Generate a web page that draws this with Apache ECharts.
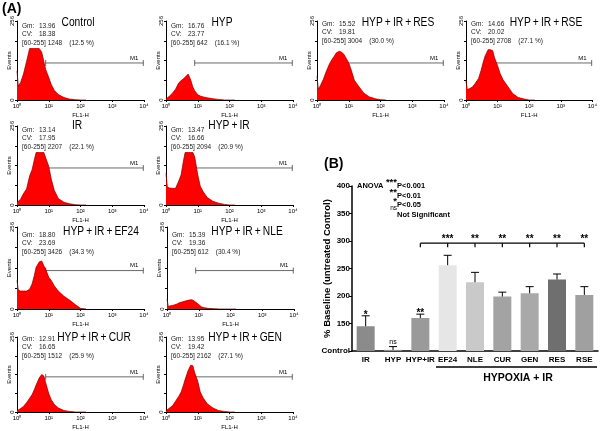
<!DOCTYPE html>
<html><head><meta charset="utf-8">
<script src="https://cdn.jsdelivr.net/npm/echarts@6/dist/echarts.min.js"></script>
<style>html,body{margin:0;padding:0;background:#fff}#c{width:600px;height:431px}</style>
</head><body><div id="c"></div><script>
// ---------- DATA ----------
const binEdges = [1, 1.1, 1.3, 1.6, 2, 2.5, 3, 3.5, 4, 5, 6, 7, 8, 10, 12, 15, 20, 30, 45, 70, 100, 150];
const histControl = [94, 45, 57, 84, 125, 167, 167, 167, 167, 167, 155, 125, 99, 73, 50, 31, 18, 8, 3, 1, 0, 0];
const histHYP     = [3, 8, 13, 22, 35, 55, 63, 68, 73, 84, 65, 42, 30, 17, 13, 10, 7, 4, 2, 0, 0, 0];
const histRES     = [77, 35, 48, 68, 95, 118, 132, 142, 152, 158, 155, 148, 138, 120, 97, 64, 46, 22, 10, 4, 1, 0];
const histRSE     = [60, 34, 37, 42, 55, 70, 96, 122, 142, 163, 163, 160, 137, 111, 86, 65, 47, 21, 8, 3, 0, 0];
const histIR      = [8, 12, 19, 37, 52, 94, 115, 146, 170, 170, 170, 170, 170, 125, 84, 47, 21, 9, 4, 1, 0, 0];
const histHYPIR   = [103, 58, 55, 54, 54, 77, 98, 140, 170, 170, 170, 170, 156, 98, 61, 42, 24, 12, 6, 2, 0, 0];
const histEF24    = [89, 59, 56, 56, 56, 62, 79, 104, 130, 147, 150, 135, 124, 99, 89, 72, 56, 40, 28, 13, 2, 0];
const histNLE     = [31, 8, 10, 12, 15, 20, 22, 24, 26, 28, 29, 26, 22, 14, 7, 4, 2, 1, 0, 0, 0, 0];
const histCUR     = [4, 8, 12, 19, 32, 47, 60, 76, 92, 116, 128, 123, 100, 63, 42, 26, 14, 5, 2, 0, 0, 0];
const histGEN     = [4, 7, 14, 21, 37, 53, 68, 90, 111, 142, 160, 158, 134, 105, 68, 47, 28, 14, 5, 2, 0, 0];
const histograms = [histControl, histHYP, histRES, histRSE, histIR, histHYPIR, histEF24, histNLE, histCUR, histGEN];

const panelTitles = ['Control', 'HYP', 'HYP + IR + RES', 'HYP + IR + RSE', 'IR', 'HYP + IR',
  'HYP + IR + EF24', 'HYP + IR + NLE', 'HYP + IR + CUR', 'HYP + IR + GEN'];
const gmValues = ['13.96', '16.76', '15.52', '14.66', '13.14', '13.47', '18.80', '15.39', '12.91', '13.95'];
const cvValues = ['18.38', '23.77', '19.81', '20.02', '17.95', '16.66', '23.69', '19.36', '16.65', '19.42'];
const gateCounts = ['1248', '642', '3004', '2708', '2207', '2094', '3426', '612', '1512', '2162'];
const gatePercents = ['12.5', '16.1', '30.0', '27.1', '22.1', '20.9', '34.3', '30.4', '25.9', '27.1'];
const gateRange = [8, 9500];
const gateLevel = 120;
const logTickLabels = ['10\u2070', '10\u00b9', '10\u00b2', '10\u00b3', '10\u2074'];
const eventsTicks = [0, 256];

const barCategories = ['IR', 'HYP', 'HYP+IR', 'EF24', 'NLE', 'CUR', 'GEN', 'RES', 'RSE'];
const barMeans = [145, 102, 160, 256, 225, 199, 205, 230, 202];
const barErrTop = [164, 108, 167, 274, 243, 207, 217, 240, 217];
const barSignif = ['*', 'ns', '**', '***', '**', '**', '**', '**', '**'];
const bracketFrom = 2, bracketTo = 8, bracketLevel = 296;
const legendStars = ['***', '**', '*', 'ns'];
const legendTexts = ['P<0.001', 'P<0.01', 'P<0.05', 'Not Significant'];

// ---------- STYLE / LAYOUT ----------
const barColors = ['#8b8b8b', '#8e8e8e', '#9a9a9a', '#e6e6e6', '#c9c9c9', '#a3a3a3', '#a9a9a9', '#6f6f6f', '#a0a0a0'];
const FONT = 'Liberation Sans, Arial, sans-serif';
const panelLayout = [
  {left: 17, top: 21, h: 79, tx: 78, ty: 23, sy: 26},
  {left: 166, top: 21, h: 79, tx: 222, ty: 23, sy: 26},
  {left: 317, top: 21, h: 79, tx: 398, ty: 23, sy: 24},
  {left: 466, top: 21, h: 79, tx: 546, ty: 23, sy: 24},
  {left: 17, top: 126, h: 79, tx: 77, ty: 126, sy: 130},
  {left: 166, top: 126, h: 79, tx: 229, ty: 126, sy: 130},
  {left: 17, top: 227, h: 82, tx: 101, ty: 232, sy: 235},
  {left: 167, top: 227, h: 82, tx: 247, ty: 232, sy: 235},
  {left: 17, top: 337, h: 78, tx: 94, ty: 338, sy: 339},
  {left: 166, top: 337, h: 78, tx: 245, ty: 338, sy: 339}
];
const PW = 127;

const grids = [], xAxes = [], yAxes = [], series = [], graphics = [];

panelLayout.forEach((p, i) => {
  grids.push({left: p.left, top: p.top, width: PW, height: p.h});
  xAxes.push({
    type: 'log', logBase: 10, min: 1, max: 10000, gridIndex: i,
    axisLine: {lineStyle: {color: '#000', width: 1}},
    axisTick: {show: true, length: 2, lineStyle: {color: '#000'}},
    axisLabel: {fontSize: 6, margin: 3, color: '#000', fontFamily: FONT,
      formatter: v => logTickLabels[Math.round(Math.log10(v))]},
    splitLine: {show: false},
    name: 'FL1-H', nameLocation: 'middle', nameGap: 12, nameMoveOverlap: false,
    nameTextStyle: {fontSize: 6, color: '#000', fontFamily: FONT}
  });
  yAxes.push({
    type: 'value', min: 0, max: 256, interval: 64, gridIndex: i,
    axisLine: {show: true, lineStyle: {color: '#000', width: 1}},
    axisTick: {show: true, length: 2, lineStyle: {color: '#000'}},
    axisLabel: {fontSize: 6, rotate: 90, margin: 2, color: '#000', fontFamily: FONT,
      formatter: v => eventsTicks.includes(v) ? String(v) : ''},
    splitLine: {show: false},
    name: 'Events', nameLocation: 'middle', nameGap: 5, nameMoveOverlap: false,
    nameTextStyle: {fontSize: 6, color: '#000', fontFamily: FONT}
  });
  // gate M1 (behind histogram)
  series.push({
    type: 'custom', xAxisIndex: i, yAxisIndex: i, z: 1, silent: true,
    data: [[gateRange[0], gateRange[1], gateLevel]],
    encode: {x: [0, 1], y: 2},
    renderItem: (params, api) => {
      const a = api.coord([api.value(0), api.value(2)]);
      const b = api.coord([api.value(1), api.value(2)]);
      const st = {stroke: '#444', lineWidth: 0.8};
      return {type: 'group', children: [
        {type: 'line', shape: {x1: a[0], y1: a[1], x2: b[0], y2: b[1]}, style: st},
        {type: 'line', shape: {x1: a[0], y1: a[1] - 3, x2: a[0], y2: a[1] + 3}, style: st},
        {type: 'line', shape: {x1: b[0], y1: b[1] - 3, x2: b[0], y2: b[1] + 3}, style: st},
        {type: 'text', x: b[0] - 5, y: b[1] - 2, style: {text: 'M1', fontSize: 6, fontFamily: FONT, fill: '#000', align: 'right', verticalAlign: 'bottom'}}
      ]};
    }
  });
  series.push({
    type: 'line', xAxisIndex: i, yAxisIndex: i, z: 3, silent: true,
    showSymbol: false, symbol: 'none',
    data: binEdges.map((x, k) => [x, histograms[i][k]]),
    lineStyle: {color: '#7a0000', width: 0.7},
    areaStyle: {color: '#ff0000', opacity: 1}
  });
  // title (thin spaces, horizontally condensed to mimic the original narrow font)
  graphics.push({type: 'text', x: p.tx, y: p.ty, z: 10, scaleX: 0.82,
    style: {text: panelTitles[i].replace(/ /g, '\u2009'), fontSize: 12.5, fontFamily: FONT, fill: '#000', align: 'center', verticalAlign: 'middle'}});
  // stats
  const sx = p.left + 5;
  const sst = {fontSize: 6.5, fontFamily: FONT, fill: '#222', verticalAlign: 'middle', align: 'left'};
  graphics.push({type: 'text', x: sx, y: p.sy, z: 10, style: Object.assign({text: 'Gm:'}, sst)});
  graphics.push({type: 'text', x: sx + 17, y: p.sy, z: 10, style: Object.assign({text: gmValues[i]}, sst)});
  graphics.push({type: 'text', x: sx, y: p.sy + 8.5, z: 10, style: Object.assign({text: 'CV:'}, sst)});
  graphics.push({type: 'text', x: sx + 17, y: p.sy + 8.5, z: 10, style: Object.assign({text: cvValues[i]}, sst)});
  graphics.push({type: 'text', x: sx, y: p.sy + 17, z: 10,
    style: Object.assign({text: '[60-255] ' + gateCounts[i] + '    (' + gatePercents[i] + ' %)'}, sst)});
});

// ---------- BAR CHART (B) ----------
const B = panelLayout.length;
grids.push({left: 352, top: 186, width: 246, height: 165});
xAxes.push({
  type: 'category', data: barCategories, gridIndex: B,
  axisLine: {lineStyle: {color: '#000', width: 1.5}},
  axisTick: {show: false},
  axisLabel: {interval: 0, fontSize: 8, fontWeight: 'bold', color: '#000', margin: 5, fontFamily: FONT}
});
yAxes.push({
  type: 'value', min: 100, max: 400, interval: 50, gridIndex: B,
  axisLine: {show: true, lineStyle: {color: '#000', width: 1.5}},
  axisTick: {show: true, length: 3, lineStyle: {color: '#000'}},
  axisLabel: {fontSize: 8, fontWeight: 'bold', color: '#000', margin: 2, fontFamily: FONT,
    formatter: v => v === 100 ? 'Control' : String(v)},
  splitLine: {show: false},
  name: '% Baseline (untreated Control)', nameLocation: 'middle', nameGap: 20, nameMoveOverlap: false,
  nameTextStyle: {fontSize: 9.5, fontWeight: 'bold', color: '#000', fontFamily: FONT}
});
series.push({
  type: 'bar', xAxisIndex: B, yAxisIndex: B, barWidth: 18, z: 2,
  data: barMeans.map((v, i) => ({value: v, itemStyle: {color: barColors[i]}}))
});
series.push({
  type: 'custom', xAxisIndex: B, yAxisIndex: B, z: 3,
  data: barMeans.map((m, i) => [i, m, barErrTop[i]]),
  encode: {x: 0, y: [1, 2]},
  renderItem: (params, api) => {
    const i = api.value(0);
    const a = api.coord([i, api.value(1)]);
    const t = api.coord([i, api.value(2)]);
    const st = {stroke: '#000', lineWidth: 1};
    const kids = [
      {type: 'line', shape: {x1: a[0], y1: a[1], x2: t[0], y2: t[1]}, style: st},
      {type: 'line', shape: {x1: t[0] - 4, y1: t[1], x2: t[0] + 4, y2: t[1]}, style: st}
    ];
    if (i < bracketFrom + 1) {
      const s = barSignif[i];
      const isNs = s === 'ns';
      kids.push({type: 'text', x: t[0], y: isNs ? t[1] - 1 : t[1] + 4,
        style: {text: s, fontSize: isNs ? 7 : 10, fontWeight: isNs ? 'normal' : 'bold', fontFamily: FONT, fill: '#000',
          align: 'center', verticalAlign: 'bottom'}});
    }
    return {type: 'group', children: kids};
  }
});
series.push({
  type: 'custom', xAxisIndex: B, yAxisIndex: B, z: 3,
  data: [[bracketFrom, bracketTo, bracketLevel]],
  encode: {x: [0, 1], y: 2},
  clip: false,
  renderItem: (params, api) => {
    const f = api.value(0), t = api.value(1), lv = api.value(2);
    const a = api.coord([f, lv]), b = api.coord([t, lv]);
    const st = {stroke: '#000', lineWidth: 1.2};
    const kids = [{type: 'line', shape: {x1: a[0], y1: a[1], x2: b[0], y2: b[1]}, style: st}];
    for (let k = f; k <= t; k++) {
      const c = api.coord([k, lv]);
      kids.push({type: 'line', shape: {x1: c[0], y1: c[1], x2: c[0], y2: c[1] + 4}, style: st});
      if (k > f) {
        kids.push({type: 'text', x: c[0], y: c[1] + 1,
          style: {text: barSignif[k], fontSize: 10, fontWeight: 'bold', fontFamily: FONT, fill: '#000',
            align: 'center', verticalAlign: 'bottom'}});
      }
    }
    return {type: 'group', children: kids};
  }
});

// annotations
graphics.push({type: 'text', x: 2, y: 9, style: {text: '(A)', fontSize: 14, fontWeight: 'bold', fontFamily: FONT, fill: '#000', verticalAlign: 'middle'}});
graphics.push({type: 'text', x: 324, y: 164, style: {text: '(B)', fontSize: 14, fontWeight: 'bold', fontFamily: FONT, fill: '#000', verticalAlign: 'middle'}});
graphics.push({type: 'text', x: 357, y: 186, style: {text: 'ANOVA', fontSize: 7.5, fontWeight: 'bold', fontFamily: FONT, fill: '#000', verticalAlign: 'middle'}});
const legY = [186, 196, 205, 215];
legendStars.forEach((s, k) => {
  const isNs = s === 'ns';
  graphics.push({type: 'text', x: 397, y: legY[k] + (isNs ? -3 : 1), style: {text: s, fontSize: isNs ? 6.5 : 9.5, fontWeight: isNs ? 'normal' : 'bold', fontFamily: FONT, fill: '#000', align: 'right', verticalAlign: 'bottom'}});
  graphics.push({type: 'text', x: 397, y: legY[k], style: {text: legendTexts[k], fontSize: 7.5, fontWeight: 'bold', fontFamily: FONT, fill: '#000', verticalAlign: 'middle'}});
});
graphics.push({type: 'line', shape: {x1: 436, y1: 367, x2: 597, y2: 367}, style: {stroke: '#000', lineWidth: 1.3}});
graphics.push({type: 'text', x: 518, y: 378, style: {text: 'HYPOXIA + IR', fontSize: 10.5, fontWeight: 'bold', fontFamily: FONT, fill: '#000', align: 'center', verticalAlign: 'middle'}});

const chart = echarts.init(document.getElementById('c'), null, {renderer: 'canvas', width: 600, height: 431});
chart.setOption({
  animation: false,
  backgroundColor: '#fff',
  textStyle: {fontFamily: FONT, color: '#000'},
  grid: grids, xAxis: xAxes, yAxis: yAxes, series: series, graphic: graphics
});
</script></body></html>
